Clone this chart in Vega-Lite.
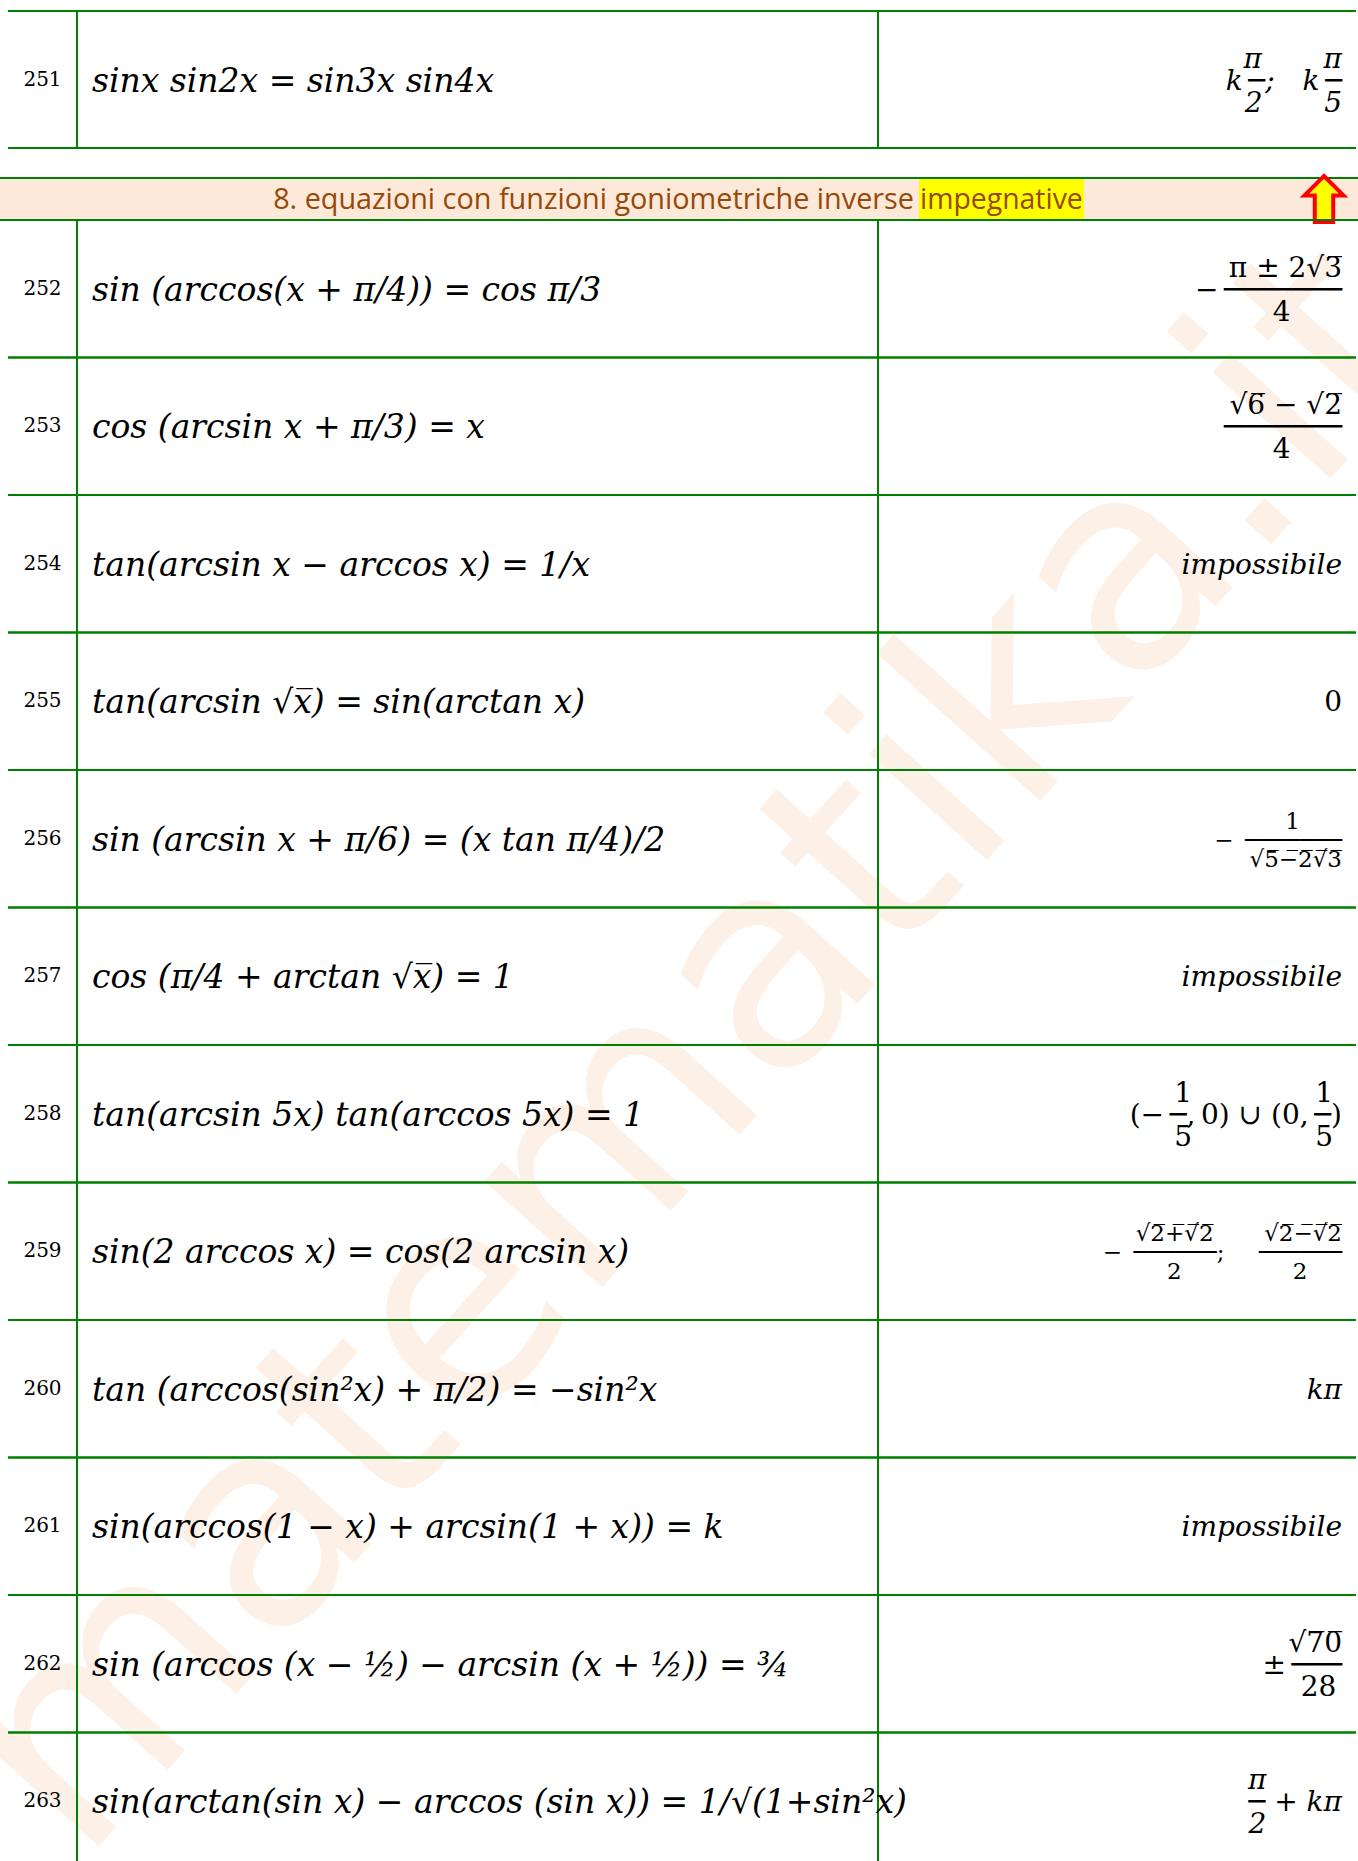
{
  "$schema": "https://vega.github.io/schema/vega-lite/v6.json",
  "width": 1358,
  "height": 1861,
  "padding": 0,
  "autosize": {"type": "none"},
  "background": "#ffffff",
  "config": {
    "view": {"stroke": null},
    "axis": {"disable": true},
    "text": {"font": "DejaVu Serif", "color": "#000000"},
    "rule": {"color": "#008000", "strokeWidth": 2}
  },
  "datasets": {
    "rows": [
      {"n": 251, "eq": "sinx sin2x = sin3x sin4x", "sol": ["π\u2003\u2003\u2009π", "k\u2009─;\u2003k\u2009─", "2\u2003\u2003\u20095"]},
      {"n": 252, "eq": "sin (arccos(x + π/4)) = cos π/3", "sol": ["π ± 2√3\u0305", "−\u2009───────", "4\u2003\u2007\u2009\u2060"]},
      {"n": 253, "eq": "cos (arcsin x + π/3) = x", "sol": ["√6\u0305 − √2\u0305", "───────", "4\u2003\u2007\u2009\u2060"]},
      {"n": 254, "eq": "tan(arcsin x − arccos x) = 1/x", "sol": ["", "impossibile", ""]},
      {"n": 255, "eq": "tan(arcsin √x\u0305) = sin(arctan x)", "sol": ["", "0", ""]},
      {"n": 256, "eq": "sin (arcsin x + π/6) = (x tan π/4)/2", "sol": ["1\u2003\u2007\u2009\u2060", "−\u2002───────", "√5\u0305−\u03052\u0305√\u03053\u0305"]},
      {"n": 257, "eq": "cos (π/4 + arctan √x\u0305) = 1", "sol": ["", "impossibile", ""]},
      {"n": 258, "eq": "tan(arcsin 5x) tan(arccos 5x) = 1", "sol": ["1\u2003\u2003\u2003\u2003\u2009\u20091\u00A0\u2060", "(−\u2009─,\u20090) ∪ (0,\u2009─)", "5\u2003\u2003\u2003\u2003\u2009\u20095\u00A0\u2060"]},
      {"n": 259, "eq": "sin(2 arccos x) = cos(2 arcsin x)", "sol": ["√2\u0305+\u0305√\u03052\u0305\u2003\u2003\u2009√2\u0305−\u0305√\u03052\u0305", "−\u2002──────;\u2003\u2002──────", "2\u2003\u2003\u2003\u2003\u2007\u20092\u2003\u2002\u2060"]},
      {"n": 260, "eq": "tan (arccos(sin²x) + π/2) = −sin²x", "sol": ["", "kπ", ""]},
      {"n": 261, "eq": "sin(arccos(1 − x) + arcsin(1 + x)) = k", "sol": ["", "impossibile", ""]},
      {"n": 262, "eq": "sin (arccos (x − ½) − arcsin (x + ½)) = ¾", "sol": ["√7\u03050\u0305", "±\u2009───", "28\u2009\u2060"]},
      {"n": 263, "eq": "sin(arctan(sin x) − arccos (sin x)) = 1/√(1+sin²x)", "sol": ["π\u2003\u2003\u2002\u2009\u2060", "─ + kπ", "2\u2003\u2003\u2002\u2009\u2060"]}
    ],
    "header": [
      {"section": 8, "title": "8. equazioni con funzioni goniometriche inverse", "highlight": "impegnative"}
    ],
    "watermark": [
      {"site": "matematika.it"}
    ]
  },
  "layer": [
    {
      "data": {"name": "watermark"},
      "mark": {"type": "text", "font": "DejaVu Sans", "fontSize": 290, "angle": -48, "color": "#fdf0e6", "align": "center", "baseline": "middle"},
      "encoding": {
        "text": {"field": "site", "type": "nominal"},
        "x": {"datum": 697, "type": "quantitative", "scale": {"domain": [0, 1358], "range": [0, 1358]}},
        "y": {"datum": 1052, "type": "quantitative", "scale": {"domain": [0, 1861], "range": [0, 1861]}}
      }
    },
    {
      "data": {"name": "rows"},
      "transform": [{"filter": "datum.n == 251"}],
      "layer": [
        {
          "mark": {"type": "rule"},
          "encoding": {
            "y": {"field": "n", "type": "ordinal", "bandPosition": 0, "scale": {"type": "band", "domain": [251], "range": [11, 148], "paddingInner": 0, "paddingOuter": 0}},
            "x": {"datum": 8, "type": "quantitative", "scale": {"domain": [0, 1358], "range": [0, 1358]}},
            "x2": {"datum": 1356}
          }
        },
        {
          "mark": {"type": "rule"},
          "encoding": {
            "y": {"field": "n", "type": "ordinal", "bandPosition": 1, "scale": {"type": "band", "domain": [251], "range": [11, 148], "paddingInner": 0, "paddingOuter": 0}},
            "x": {"datum": 8, "type": "quantitative", "scale": {"domain": [0, 1358], "range": [0, 1358]}},
            "x2": {"datum": 1356}
          }
        },
        {
          "mark": {"type": "rect", "color": "#008000"},
          "encoding": {
            "y": {"field": "n", "type": "ordinal", "scale": {"type": "band", "domain": [251], "range": [11, 148], "paddingInner": 0, "paddingOuter": 0}},
            "x": {"datum": 76, "type": "quantitative", "scale": {"domain": [0, 1358], "range": [0, 1358]}},
            "x2": {"datum": 78}
          }
        },
        {
          "mark": {"type": "rect", "color": "#008000"},
          "encoding": {
            "y": {"field": "n", "type": "ordinal", "scale": {"type": "band", "domain": [251], "range": [11, 148], "paddingInner": 0, "paddingOuter": 0}},
            "x": {"datum": 877, "type": "quantitative", "scale": {"domain": [0, 1358], "range": [0, 1358]}},
            "x2": {"datum": 879}
          }
        },
        {
          "mark": {"type": "text", "fontSize": 20, "align": "center", "baseline": "middle"},
          "encoding": {
            "text": {"field": "n", "type": "nominal"},
            "y": {"field": "n", "type": "ordinal", "scale": {"type": "band", "domain": [251], "range": [11, 148], "paddingInner": 0, "paddingOuter": 0}},
            "x": {"datum": 42.5, "type": "quantitative", "scale": {"domain": [0, 1358], "range": [0, 1358]}}
          }
        },
        {
          "mark": {"type": "text", "fontSize": 33, "fontStyle": "italic", "align": "left", "baseline": "middle", "dy": 2},
          "encoding": {
            "text": {"field": "eq", "type": "nominal"},
            "y": {"field": "n", "type": "ordinal", "scale": {"type": "band", "domain": [251], "range": [11, 148], "paddingInner": 0, "paddingOuter": 0}},
            "x": {"datum": 92, "type": "quantitative", "scale": {"domain": [0, 1358], "range": [0, 1358]}}
          }
        },
        {
          "mark": {"type": "text", "fontSize": 28, "fontStyle": "italic", "align": "right", "baseline": "middle", "lineHeight": 22, "dy": -20},
          "encoding": {
            "text": {"field": "sol", "type": "nominal"},
            "y": {"field": "n", "type": "ordinal", "scale": {"type": "band", "domain": [251], "range": [11, 148], "paddingInner": 0, "paddingOuter": 0}},
            "x": {"datum": 1342, "type": "quantitative", "scale": {"domain": [0, 1358], "range": [0, 1358]}}
          }
        }
      ]
    },
    {
      "data": {"name": "header"},
      "layer": [
        {
          "mark": {"type": "rect", "color": "#fde9d9"},
          "encoding": {
            "y": {"field": "section", "type": "ordinal", "scale": {"type": "band", "domain": [8], "range": [178, 220], "paddingInner": 0, "paddingOuter": 0}},
            "x": {"datum": 0, "type": "quantitative", "scale": {"domain": [0, 1358], "range": [0, 1358]}},
            "x2": {"datum": 1358}
          }
        },
        {
          "mark": {"type": "rect", "color": "#ffff00"},
          "encoding": {
            "y": {"field": "section", "type": "ordinal", "scale": {"type": "band", "domain": [8], "range": [178, 220], "paddingInner": 0, "paddingOuter": 0}},
            "x": {"datum": 919, "type": "quantitative", "scale": {"domain": [0, 1358], "range": [0, 1358]}},
            "x2": {"datum": 1084}
          }
        },
        {
          "mark": {"type": "rule"},
          "encoding": {
            "y": {"field": "section", "type": "ordinal", "bandPosition": 0, "scale": {"type": "band", "domain": [8], "range": [178, 220], "paddingInner": 0, "paddingOuter": 0}},
            "x": {"datum": 0, "type": "quantitative", "scale": {"domain": [0, 1358], "range": [0, 1358]}},
            "x2": {"datum": 1358}
          }
        },
        {
          "mark": {"type": "rule"},
          "encoding": {
            "y": {"field": "section", "type": "ordinal", "bandPosition": 1, "scale": {"type": "band", "domain": [8], "range": [178, 220], "paddingInner": 0, "paddingOuter": 0}},
            "x": {"datum": 0, "type": "quantitative", "scale": {"domain": [0, 1358], "range": [0, 1358]}},
            "x2": {"datum": 1358}
          }
        },
        {
          "mark": {"type": "text", "font": "Open Sans", "fontSize": 28.8, "color": "#984806", "align": "right", "baseline": "middle", "dy": 1},
          "encoding": {
            "text": {"field": "title", "type": "nominal"},
            "y": {"field": "section", "type": "ordinal", "scale": {"type": "band", "domain": [8], "range": [178, 220], "paddingInner": 0, "paddingOuter": 0}},
            "x": {"datum": 914, "type": "quantitative", "scale": {"domain": [0, 1358], "range": [0, 1358]}}
          }
        },
        {
          "mark": {"type": "text", "font": "Open Sans", "fontSize": 28.4, "color": "#984806", "align": "left", "baseline": "middle", "dy": 1},
          "encoding": {
            "text": {"field": "highlight", "type": "nominal"},
            "y": {"field": "section", "type": "ordinal", "scale": {"type": "band", "domain": [8], "range": [178, 220], "paddingInner": 0, "paddingOuter": 0}},
            "x": {"datum": 920, "type": "quantitative", "scale": {"domain": [0, 1358], "range": [0, 1358]}}
          }
        },
        {
          "mark": {"type": "point", "shape": "M0,-1L0.85,-0.15L0.4,-0.15L0.4,1L-0.4,1L-0.4,-0.15L-0.85,-0.15Z", "size": 2116, "filled": true, "fill": "#ffff00", "stroke": "#ff0000", "strokeWidth": 4, "opacity": 1, "fillOpacity": 1},
          "encoding": {
            "y": {"field": "section", "type": "ordinal", "scale": {"type": "band", "domain": [8], "range": [178, 220], "paddingInner": 0, "paddingOuter": 0}},
            "x": {"datum": 1324, "type": "quantitative", "scale": {"domain": [0, 1358], "range": [0, 1358]}}
          }
        }
      ]
    },
    {
      "data": {"name": "rows"},
      "transform": [{"filter": "datum.n >= 252"}],
      "layer": [
        {
          "mark": {"type": "rule"},
          "encoding": {
            "y": {"field": "n", "type": "ordinal", "bandPosition": 0, "scale": {"type": "band", "domain": [252, 253, 254, 255, 256, 257, 258, 259, 260, 261, 262, 263], "range": [220, 1870], "paddingInner": 0, "paddingOuter": 0}},
            "x": {"datum": 8, "type": "quantitative", "scale": {"domain": [0, 1358], "range": [0, 1358]}},
            "x2": {"datum": 1356}
          }
        },
        {
          "mark": {"type": "rule"},
          "encoding": {
            "y": {"field": "n", "type": "ordinal", "bandPosition": 1, "scale": {"type": "band", "domain": [252, 253, 254, 255, 256, 257, 258, 259, 260, 261, 262, 263], "range": [220, 1870], "paddingInner": 0, "paddingOuter": 0}},
            "x": {"datum": 8, "type": "quantitative", "scale": {"domain": [0, 1358], "range": [0, 1358]}},
            "x2": {"datum": 1356}
          }
        },
        {
          "mark": {"type": "rect", "color": "#008000"},
          "encoding": {
            "y": {"field": "n", "type": "ordinal", "scale": {"type": "band", "domain": [252, 253, 254, 255, 256, 257, 258, 259, 260, 261, 262, 263], "range": [220, 1870], "paddingInner": 0, "paddingOuter": 0}},
            "x": {"datum": 76, "type": "quantitative", "scale": {"domain": [0, 1358], "range": [0, 1358]}},
            "x2": {"datum": 78}
          }
        },
        {
          "mark": {"type": "rect", "color": "#008000"},
          "encoding": {
            "y": {"field": "n", "type": "ordinal", "scale": {"type": "band", "domain": [252, 253, 254, 255, 256, 257, 258, 259, 260, 261, 262, 263], "range": [220, 1870], "paddingInner": 0, "paddingOuter": 0}},
            "x": {"datum": 877, "type": "quantitative", "scale": {"domain": [0, 1358], "range": [0, 1358]}},
            "x2": {"datum": 879}
          }
        },
        {
          "mark": {"type": "text", "fontSize": 20, "align": "center", "baseline": "middle"},
          "encoding": {
            "text": {"field": "n", "type": "nominal"},
            "y": {"field": "n", "type": "ordinal", "scale": {"type": "band", "domain": [252, 253, 254, 255, 256, 257, 258, 259, 260, 261, 262, 263], "range": [220, 1870], "paddingInner": 0, "paddingOuter": 0}},
            "x": {"datum": 42.5, "type": "quantitative", "scale": {"domain": [0, 1358], "range": [0, 1358]}}
          }
        },
        {
          "mark": {"type": "text", "fontSize": 33, "fontStyle": "italic", "align": "left", "baseline": "middle", "dy": 2},
          "encoding": {
            "text": {"field": "eq", "type": "nominal"},
            "y": {"field": "n", "type": "ordinal", "scale": {"type": "band", "domain": [252, 253, 254, 255, 256, 257, 258, 259, 260, 261, 262, 263], "range": [220, 1870], "paddingInner": 0, "paddingOuter": 0}},
            "x": {"datum": 92, "type": "quantitative", "scale": {"domain": [0, 1358], "range": [0, 1358]}}
          }
        },
        {
          "transform": [{"filter": {"field": "n", "oneOf": [254, 257, 260, 261, 263]}}],
          "mark": {"type": "text", "fontSize": 28, "fontStyle": "italic", "align": "right", "baseline": "middle", "lineHeight": 22, "dy": -20},
          "encoding": {
            "text": {"field": "sol", "type": "nominal"},
            "y": {"field": "n", "type": "ordinal", "scale": {"type": "band", "domain": [252, 253, 254, 255, 256, 257, 258, 259, 260, 261, 262, 263], "range": [220, 1870], "paddingInner": 0, "paddingOuter": 0}},
            "x": {"datum": 1342, "type": "quantitative", "scale": {"domain": [0, 1358], "range": [0, 1358]}}
          }
        },
        {
          "transform": [{"filter": {"field": "n", "oneOf": [252, 253, 255, 258, 262]}}],
          "mark": {"type": "text", "fontSize": 28, "align": "right", "baseline": "middle", "lineHeight": 22, "dy": -20},
          "encoding": {
            "text": {"field": "sol", "type": "nominal"},
            "y": {"field": "n", "type": "ordinal", "scale": {"type": "band", "domain": [252, 253, 254, 255, 256, 257, 258, 259, 260, 261, 262, 263], "range": [220, 1870], "paddingInner": 0, "paddingOuter": 0}},
            "x": {"datum": 1342, "type": "quantitative", "scale": {"domain": [0, 1358], "range": [0, 1358]}}
          }
        },
        {
          "transform": [{"filter": {"field": "n", "oneOf": [256, 259]}}],
          "mark": {"type": "text", "fontSize": 23, "align": "right", "baseline": "middle", "lineHeight": 19, "dy": -17},
          "encoding": {
            "text": {"field": "sol", "type": "nominal"},
            "y": {"field": "n", "type": "ordinal", "scale": {"type": "band", "domain": [252, 253, 254, 255, 256, 257, 258, 259, 260, 261, 262, 263], "range": [220, 1870], "paddingInner": 0, "paddingOuter": 0}},
            "x": {"datum": 1342, "type": "quantitative", "scale": {"domain": [0, 1358], "range": [0, 1358]}}
          }
        }
      ]
    }
  ],
  "resolve": {"scale": {"y": "independent"}}
}
